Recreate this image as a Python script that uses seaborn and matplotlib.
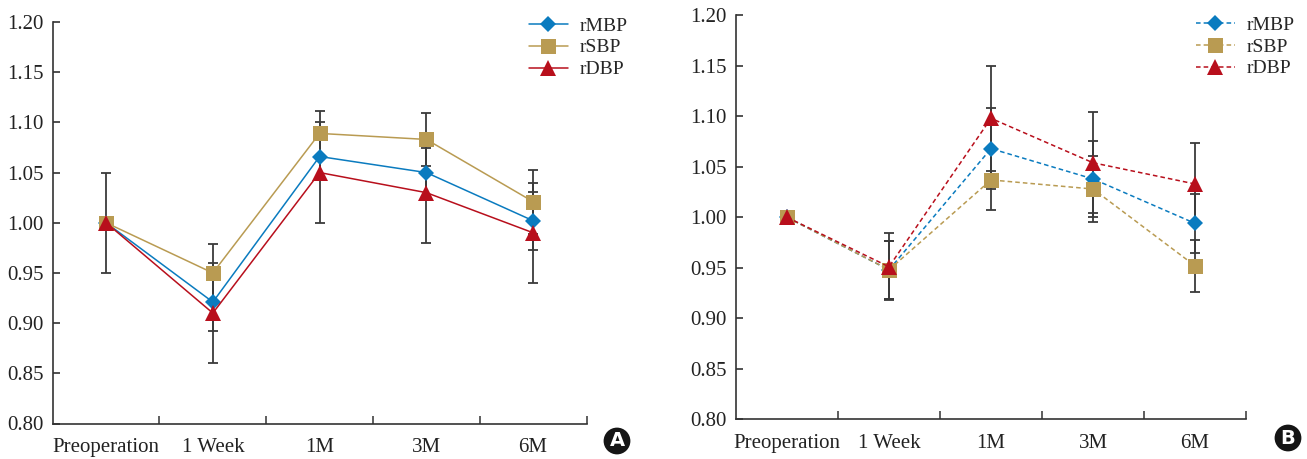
import numpy as np
import pandas as pd
import matplotlib

matplotlib.use("Agg")
import matplotlib.pyplot as plt
import seaborn as sns
from matplotlib.lines import Line2D
from matplotlib.ticker import MultipleLocator, FormatStrFormatter

# Data
times = ["Preoperation", "1 Week", "1M", "3M", "6M"]
measures = ["rMBP", "rSBP", "rDBP"]

# Panel A
a_mbp = [1.000, 0.921, 1.066, 1.050, 1.002]
a_sbp = [1.000, 0.950, 1.089, 1.083, 1.021]
a_dbp = [1.000, 0.910, 1.050, 1.030, 0.990]
a_mbp_sd = [0.0, 0.029, 0.020, 0.024, 0.029]
a_sbp_sd = [0.0, 0.029, 0.022, 0.026, 0.032]
a_dbp_sd = [0.050, 0.050, 0.050, 0.050, 0.050]

# Panel B
b_mbp = [1.000, 0.948, 1.068, 1.038, 0.994]
b_sbp = [1.000, 0.948, 1.037, 1.028, 0.952]
b_dbp = [1.000, 0.951, 1.098, 1.054, 1.033]
b_mbp_sd = [0.0, 0.029, 0.040, 0.038, 0.029]
b_sbp_sd = [0.0, 0.029, 0.030, 0.033, 0.026]
b_dbp_sd = [0.0, 0.033, 0.052, 0.050, 0.041]

sns.set_style("ticks")
plt.rcParams["font.family"] = ["Liberation Serif", "DejaVu Serif"]

colors = {"rMBP": "#0a7bbf", "rSBP": "#b99b52", "rDBP": "#b80f1c"}
markers = {"rMBP": "D", "rSBP": "s", "rDBP": "^"}
msizes = {"D": 8.4, "s": 10.8, "^": 11.2}
DASH = (0, (3, 2))


def long_frame(series):
    rows = []
    for name, vals in series.items():
        for t, v in zip(times, vals):
            rows.append({"time": t, "value": v, "measure": name})
    return pd.DataFrame(rows)


def draw_panel(ax, means, sds, ls):
    pos = np.arange(len(times))
    for name in measures:
        ax.errorbar(pos, means[name], yerr=sds[name], fmt="none",
                    ecolor="#3a3a3a", elinewidth=1.3, capsize=3.5,
                    capthick=1.3, zorder=1)
    df = long_frame(means)
    sns.pointplot(data=df, x="time", y="value", hue="measure", order=times,
                  hue_order=measures, palette=colors,
                  markers=[markers[m] for m in measures],
                  linestyles=[ls] * len(measures), errorbar=None,
                  linewidth=1.1, legend=False, ax=ax)
    for line in ax.lines:
        mk = line.get_marker()
        if isinstance(mk, str) and mk in msizes:
            line.set_markersize(msizes[mk])
            line.set_markeredgewidth(0)

    ax.set_xlim(-0.5, len(times) - 0.5)
    ax.set_ylim(0.80, 1.20)
    ax.yaxis.set_major_locator(MultipleLocator(0.05))
    ax.yaxis.set_major_formatter(FormatStrFormatter("%.2f"))
    ax.set_xticks(pos, times)
    ax.set_xticks(np.arange(0.5, len(times), 1.0), minor=True)
    ax.tick_params(axis="x", which="major", length=0, pad=10.5, labelsize=15,
                   colors="#222222")
    ax.tick_params(axis="x", which="minor", direction="in", length=6,
                   width=1.1, color="#333333")
    ax.tick_params(axis="y", direction="in", length=5, width=1.1, pad=6.5,
                   labelsize=15, colors="#222222")
    ax.set_xlabel("")
    ax.set_ylabel("")
    sns.despine(ax=ax)
    for sp in ("left", "bottom"):
        ax.spines[sp].set_color("#333333")
        ax.spines[sp].set_linewidth(1.2)


def add_legend(fig, ls, x0, y0):
    handles = [Line2D([], [], color=colors[m], marker=markers[m],
                      markersize=msizes[markers[m]], markeredgewidth=0,
                      linestyle=ls, linewidth=1.1) for m in measures]
    fig.legend(handles, measures, loc="upper left", bbox_to_anchor=(x0, y0),
               frameon=False, fontsize=14, handlelength=2.0,
               handletextpad=0.62, labelspacing=0.22, borderpad=0,
               borderaxespad=0)


W, H = 1307, 459
fig = plt.figure(figsize=(W / 100, H / 100), dpi=100)
ax_a = fig.add_axes([52.7 / W, 1 - 423.5 / H, 533.8 / W, 401.5 / H])
ax_b = fig.add_axes([736 / W, 1 - 419.3 / H, 510 / W, 404 / H])

draw_panel(ax_a, {"rMBP": a_mbp, "rSBP": a_sbp, "rDBP": a_dbp},
           {"rMBP": a_mbp_sd, "rSBP": a_sbp_sd, "rDBP": a_dbp_sd}, "-")
draw_panel(ax_b, {"rMBP": b_mbp, "rSBP": b_sbp, "rDBP": b_dbp},
           {"rMBP": b_mbp_sd, "rSBP": b_sbp_sd, "rDBP": b_dbp_sd}, DASH)

add_legend(fig, "-", 529 / W, 1 - 17 / H)
add_legend(fig, DASH, 1196 / W, 1 - 16 / H)

for label, x, y in (("A", 617, 441), ("B", 1288, 438)):
    fig.text(x / W, 1 - y / H, label, ha="center", va="center",
             color="white", fontsize=14, fontweight="bold",
             family=["DejaVu Sans"],
             bbox=dict(boxstyle="circle,pad=0.2", fc="#151515", ec="none"))

fig.savefig("out.png", dpi=100)
